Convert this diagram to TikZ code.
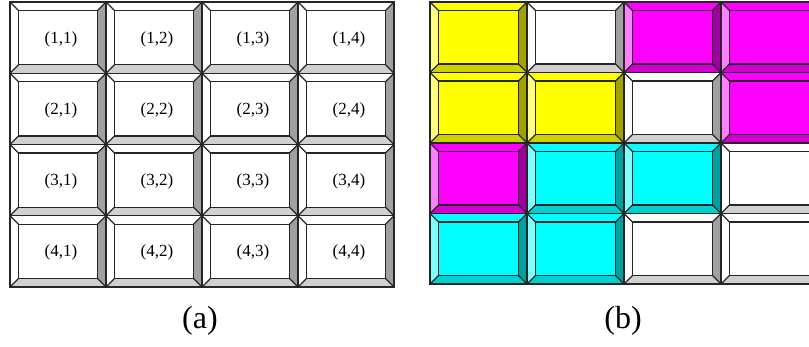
\documentclass[tikz,border=0pt]{standalone}
\usepackage{fontspec}
\setmainfont{Liberation Serif}
\definecolor{Wface}{HTML}{FFFFFF}\definecolor{Wtop}{HTML}{FFFFFF}\definecolor{Wleft}{HTML}{FFFFFF}\definecolor{Wright}{HTML}{A0A0A0}\definecolor{Wbot}{HTML}{D0D0D0}
\definecolor{Yface}{HTML}{FFFF00}\definecolor{Ytop}{HTML}{FFFF00}\definecolor{Yleft}{HTML}{FFFF80}\definecolor{Yright}{HTML}{A0A000}\definecolor{Ybot}{HTML}{D0D000}
\definecolor{Mface}{HTML}{FF00FF}\definecolor{Mtop}{HTML}{FF00FF}\definecolor{Mleft}{HTML}{FF80FF}\definecolor{Mright}{HTML}{A000A0}\definecolor{Mbot}{HTML}{D000D0}
\definecolor{Cface}{HTML}{00FFFF}\definecolor{Ctop}{HTML}{00FFFF}\definecolor{Cleft}{HTML}{80FFFF}\definecolor{Cright}{HTML}{00A0A0}\definecolor{Cbot}{HTML}{00D0D0}
\tikzset{
  bevline/.style={draw=black!85, line width=1.2pt, line join=miter},
  celllabel/.style={font=\fontsize{17}{19}\selectfont, inner sep=0pt},
  caption/.style={font=\fontsize{32}{36}\selectfont, inner sep=0pt}
}
% #1 x, #2 y, #3 w, #4 h, #5 colour prefix
\newcommand\bevcell[5]{%
  \colorlet{bvface}{#5face}\colorlet{bvtop}{#5top}\colorlet{bvleft}{#5left}%
  \colorlet{bvright}{#5right}\colorlet{bvbot}{#5bot}%
  \begin{scope}[shift={(#1,#2)}]
    \fill[bvtop] (0,0) -- (#3,0) -- (#3-8.5,8.5) -- (8.5,8.5) -- cycle;
    \fill[bvleft] (0,0) -- (8.5,8.5) -- (8.5,#4-8.5) -- (0,#4) -- cycle;
    \fill[bvright] (#3,0) -- (#3,#4) -- (#3-8.5,#4-8.5) -- (#3-8.5,8.5) -- cycle;
    \fill[bvbot] (0,#4) -- (8.5,#4-8.5) -- (#3-8.5,#4-8.5) -- (#3,#4) -- cycle;
    \fill[bvface] (8.5,8.5) rectangle (#3-8.5,#4-8.5);
    \draw[bevline] (0,0) rectangle (#3,#4);
    \draw[bevline] (8.5,8.5) rectangle (#3-8.5,#4-8.5);
    \draw[bevline] (0,0) -- (8.5,8.5) (#3,0) -- (#3-8.5,8.5)
      (0,#4) -- (8.5,#4-8.5) (#3,#4) -- (#3-8.5,#4-8.5);
  \end{scope}%
}
\begin{document}
\begin{tikzpicture}[x=1pt,y=-1pt]
\useasboundingbox (0,0) rectangle (809,346);
% (a)
\foreach \r in {1,...,4}{
  \foreach \c in {1,...,4}{
    \pgfmathsetmacro\xx{10+(\c-1)*96}
    \pgfmathsetmacro\yy{2+(\r-1)*71.25}
    \bevcell{\xx}{\yy}{96}{71.25}{W}
    \node[celllabel] (a\r\c) at (\xx+51,\yy+37) {(\r,\c)};
  }
}
% (b)
\begin{scope}
\clip (420,0) rectangle (809,346);
\foreach \r/\cols in {1/{Y,W,M,M},2/{Y,Y,W,M},3/{M,C,C,W},4/{C,C,W,W}}{
  \foreach \col [count=\c] in \cols{
    \pgfmathsetmacro\xx{430+(\c-1)*97}
    \pgfmathsetmacro\yy{2+(\r-1)*70.5}
    \bevcell{\xx}{\yy}{97}{70.5}{\col}
  }
}
\end{scope}
\node[caption] (capa) at (200,321) {(a)};
\node[caption] (capb) at (623,321) {(b)};
\end{tikzpicture}
\end{document}
